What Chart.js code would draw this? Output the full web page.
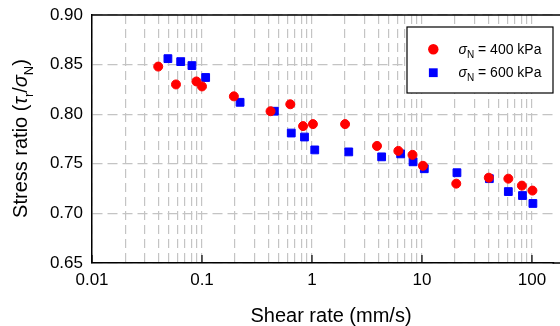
<!DOCTYPE html>
<html>
<head>
<meta charset="utf-8">
<script src="https://cdn.jsdelivr.net/npm/chart.js@4/dist/chart.umd.min.js"></script>
<style>
  html, body { margin: 0; padding: 0; background: #fff; }
  #wrap { width: 560px; height: 326px; position: relative; }
</style>
</head>
<body>
<div id="wrap"><canvas id="myChart"></canvas></div>
<script>
// shear rate (mm/s) and stress ratio
const rate400 = [0.04, 0.058, 0.089, 0.1, 0.195, 0.42, 0.635, 0.83, 1.02, 2.0, 3.9, 6.1, 8.2, 10.2, 20.5, 40.5, 61, 81, 101];
const ratio400 = [0.848, 0.830, 0.833, 0.828, 0.818, 0.803, 0.810, 0.788, 0.790, 0.790, 0.768, 0.763, 0.759, 0.748, 0.730, 0.736, 0.735, 0.728, 0.723];
const rate600 = [0.049, 0.064, 0.081, 0.108, 0.222, 0.455, 0.648, 0.855, 1.06, 2.16, 4.3, 6.4, 8.3, 10.5, 20.8, 41, 61, 82, 102];
const ratio600 = [0.856, 0.853, 0.849, 0.837, 0.812, 0.803, 0.781, 0.777, 0.764, 0.762, 0.757, 0.760, 0.752, 0.745, 0.741, 0.735, 0.722, 0.718, 0.710];
const xTickLabels = ['0.01', '0.1', '1', '10', '100'];
const yTickLabels = ['0.65', '0.70', '0.75', '0.80', '0.85', '0.90'];
const seriesNames = ['400 kPa', '600 kPa'];

const FONT = '"Liberation Sans", Arial, sans-serif';
const xMajors = xTickLabels.map(Number);
const xMin = xMajors[0];
const xMax = 157; // plot runs off the right edge of the picture

// every 1..9 x decade for the dashed grid
const xGridTicks = [];
xMajors.forEach(d => {
  for (let k = 1; k <= 9; k++) {
    const v = +(k * d).toPrecision(3);
    if (v <= xMax) xGridTicks.push(v);
  }
});

// draw a string made of pieces (italic, subscript) on one baseline
function drawRich(ctx, parts, x, y, size) {
  const fontOf = p => (p.italic ? 'italic ' : '') + (p.sub ? Math.round(size * 0.65) : size) + 'px ' + FONT;
  let w = 0;
  parts.forEach(p => { ctx.font = fontOf(p); w += ctx.measureText(p.t).width; });
  let cx = x - w / 2;
  parts.forEach(p => {
    ctx.font = fontOf(p);
    ctx.fillText(p.t, cx, y + (p.sub ? size * 0.3 : 0));
    cx += ctx.measureText(p.t).width;
  });
}

const decorations = {
  id: 'decorations',
  afterDraw(chart) {
    const ctx = chart.ctx;
    const a = chart.chartArea;
    const xs = chart.scales.x;
    ctx.save();
    // top frame line, and both frame lines carried on to the canvas edge
    ctx.strokeStyle = '#000';
    ctx.lineWidth = 1.5;
    ctx.beginPath();
    ctx.moveTo(a.left, a.top);
    ctx.lineTo(chart.width, a.top);
    ctx.moveTo(a.right - 1, a.bottom);
    ctx.lineTo(chart.width, a.bottom);
    ctx.stroke();
    // inward ticks at decades
    ctx.lineWidth = 1.2;
    xMajors.forEach(v => {
      const px = xs.getPixelForValue(v);
      ctx.beginPath();
      ctx.moveTo(px, a.bottom);
      ctx.lineTo(px, a.bottom - 8);
      ctx.stroke();
    });

    ctx.fillStyle = '#000';
    ctx.textBaseline = 'alphabetic';
    ctx.textAlign = 'left';
    // x title
    drawRich(ctx, [{ t: 'Shear rate (mm/s)' }], 331, 321.5, 20);
    // y title
    ctx.save();
    ctx.translate(27, 138.5);
    ctx.rotate(-Math.PI / 2);
    drawRich(ctx, [
      { t: 'Stress ratio (' },
      { t: 'τ', italic: true },
      { t: 'r', sub: true },
      { t: '/' },
      { t: 'σ', italic: true },
      { t: 'N', sub: true },
      { t: ')' }
    ], 0, 0, 20);
    ctx.restore();

    // legend
    ctx.fillStyle = '#fff';
    ctx.fillRect(407, 27, 146, 66);
    ctx.strokeStyle = '#000';
    ctx.lineWidth = 1.2;
    ctx.strokeRect(407, 27, 146, 66);
    chart.data.datasets.forEach((ds, i) => {
      const cy = 49.3 + i * 23.4;
      ctx.fillStyle = ds.backgroundColor;
      ctx.beginPath();
      if (ds.pointStyle === 'rect') {
        ctx.rect(433.3 - 4.4, cy - 4.4, 8.8, 8.8);
      } else {
        ctx.arc(433.3, cy, 5.2, 0, Math.PI * 2);
      }
      ctx.fill();
      ctx.fillStyle = '#000';
      const parts = [
        { t: 'σ', italic: true },
        { t: 'N', sub: true },
        { t: ' = ' + seriesNames[i] }
      ];
      let cx = 458.5;
      parts.forEach(p => {
        ctx.font = (p.italic ? 'italic ' : '') + (p.sub ? 10 : 14) + 'px ' + FONT;
        ctx.fillText(p.t, cx, cy + 4.5 + (p.sub ? 4 : 0));
        cx += ctx.measureText(p.t).width;
      });
    });
    ctx.restore();
  }
};

const ctx = document.getElementById('myChart').getContext('2d');
new Chart(ctx, {
  type: 'scatter',
  data: {
    datasets: [
      {
        label: seriesNames[0],
        data: rate400.map((x, i) => ({ x: x, y: ratio400[i] })),
        pointStyle: 'circle',
        pointRadius: 4.5,
        borderWidth: 1,
        backgroundColor: '#ff0000',
        borderColor: '#ff0000'
      },
      {
        label: seriesNames[1],
        data: rate600.map((x, i) => ({ x: x, y: ratio600[i] })),
        pointStyle: 'rect',
        pointRadius: 5.5,
        borderWidth: 1,
        backgroundColor: '#0000ff',
        borderColor: '#0000ff'
      }
    ]
  },
  options: {
    responsive: true,
    maintainAspectRatio: false,
    animation: false,
    layout: { padding: { top: 15, right: 0, left: 0, bottom: 0 } },
    plugins: {
      legend: { display: false },
      tooltip: { enabled: false }
    },
    scales: {
      x: {
        type: 'logarithmic',
        min: xMin,
        max: xMax,
        afterBuildTicks: scale => {
          scale.ticks = xGridTicks.map(v => ({ value: v }));
        },
        afterFit: scale => {
          scale.height = 63;
          scale.paddingLeft = 0;
          scale.paddingRight = 0;
        },
        ticks: {
          autoSkip: false,
          maxRotation: 0,
          padding: 7,
          color: '#000',
          font: { family: FONT, size: 17 },
          callback: v => {
            const i = xMajors.findIndex(d => Math.abs(d - v) < d * 1e-6);
            return i >= 0 ? xTickLabels[i] : '';
          }
        },
        grid: { color: '#c4c4c4', lineWidth: 1.2, drawTicks: false },
        border: { display: true, color: '#000', width: 1.5, dash: [9, 5] }
      },
      y: {
        min: Number(yTickLabels[0]),
        max: Number(yTickLabels[yTickLabels.length - 1]),
        afterBuildTicks: scale => {
          scale.ticks = yTickLabels.map(t => ({ value: Number(t) }));
        },
        afterFit: scale => {
          scale.width = 92;
          scale.paddingTop = 0;
          scale.paddingBottom = 0;
        },
        ticks: {
          padding: 9,
          color: '#000',
          font: { family: FONT, size: 17 },
          callback: (v, i) => yTickLabels[i]
        },
        grid: { color: '#c4c4c4', lineWidth: 1.2, drawTicks: false },
        border: { display: true, color: '#000', width: 1.5, dash: [10, 5] }
      }
    }
  },
  plugins: [decorations]
});
</script>
</body>
</html>
